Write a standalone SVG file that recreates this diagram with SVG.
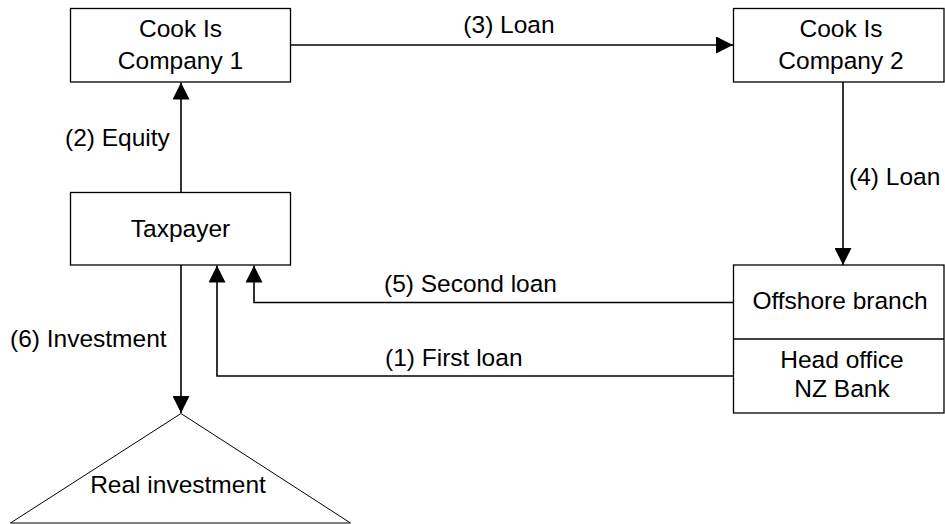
<svg xmlns="http://www.w3.org/2000/svg" width="945" height="524" viewBox="0 0 945 524">
<style>
  .box { fill: #ffffff; stroke: #000000; stroke-width: 1.3; }
  .line { fill: none; stroke: #000000; stroke-width: 1.6; }
  .t { font-family: "Liberation Sans", Arial, sans-serif; font-size: 24.5px; fill: #000000; }
  .c { text-anchor: middle; }
</style>
<defs>
  <marker id="arrow" markerUnits="userSpaceOnUse" markerWidth="17" markerHeight="17" refX="17" refY="8.5" orient="auto">
    <path d="M0,0 L17,8.5 L0,17 Z" fill="#000000"/>
  </marker>
</defs>
<rect width="945" height="524" fill="#ffffff"/>
<g id="connectors">
  <line class="line" x1="181" y1="192" x2="181" y2="82.5" marker-end="url(#arrow)"/>
  <line class="line" x1="290.5" y1="45" x2="733" y2="45" marker-end="url(#arrow)"/>
  <line class="line" x1="843" y1="82" x2="843" y2="265" marker-end="url(#arrow)"/>
  <polyline class="line" points="733,302.5 254,302.5 254,265.5" marker-end="url(#arrow)"/>
  <polyline class="line" points="733,376 217,376 217,265.5" marker-end="url(#arrow)"/>
  <line class="line" x1="181" y1="265" x2="181" y2="413" marker-end="url(#arrow)"/>
  <text class="t" x="65" y="146">(2) Equity</text>
  <text class="t c" x="509" y="33">(3) Loan</text>
  <text class="t" x="849" y="185">(4) Loan</text>
  <text class="t" x="384" y="292">(5) Second loan</text>
  <text class="t" x="385" y="366">(1) First loan</text>
  <text class="t" x="10" y="347">(6) Investment</text>
</g>
<g id="company1">
  <rect class="box" x="70.5" y="8.5" width="220" height="73.5"/>
  <text class="t c" x="180.5" y="37">Cook Is</text>
  <text class="t c" x="180.5" y="69">Company 1</text>
</g>
<g id="company2">
  <rect class="box" x="733.5" y="8.5" width="210.5" height="73.5"/>
  <text class="t c" x="841" y="37">Cook Is</text>
  <text class="t c" x="841" y="69">Company 2</text>
</g>
<g id="taxpayer">
  <rect class="box" x="70.5" y="192.5" width="220" height="72.5"/>
  <text class="t c" x="180.5" y="237">Taxpayer</text>
</g>
<g id="bank">
  <rect class="box" x="733.5" y="265" width="210.5" height="148"/>
  <line class="box" x1="733.5" y1="339" x2="944" y2="339"/>
  <text class="t c" x="840" y="309">Offshore branch</text>
  <text class="t c" x="842" y="368">Head office</text>
  <text class="t c" x="842" y="397">NZ Bank</text>
</g>
<g id="real-investment">
  <polygon points="181,413.5 10.5,523 350.5,523" fill="#ffffff" stroke="#000000" stroke-width="1"/>
  <text class="t c" x="178" y="493">Real investment</text>
</g>
</svg>
